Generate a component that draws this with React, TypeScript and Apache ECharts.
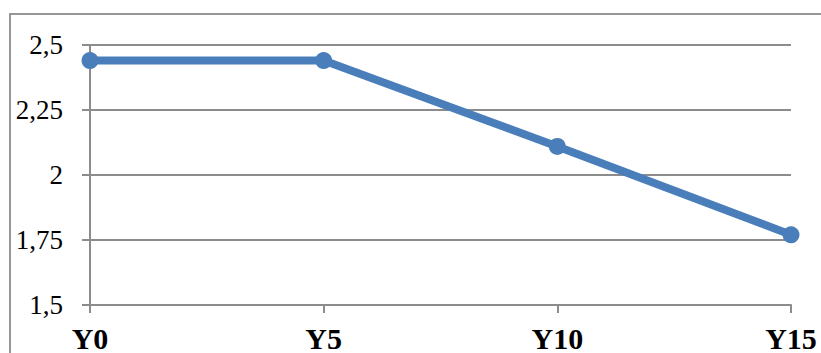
import React, { useEffect, useRef } from "react";
import * as echarts from "echarts";

const categories = ["Y0", "Y5", "Y10", "Y15"];
const values = [2.44, 2.44, 2.11, 1.77];
const yMin = 1.5;
const yMax = 2.5;
const yInterval = 0.25;

export default function App() {
  const ref = useRef<HTMLDivElement>(null);
  useEffect(() => {
    if (!ref.current) return;
    const chart = echarts.init(ref.current, null, { renderer: "svg" });
    const gray = "#8c8c8c";
    const font = "'Liberation Serif'";
    chart.setOption({
      animation: false,
      backgroundColor: "#ffffff",
      graphic: [
        {
          type: "rect",
          shape: { x: 10, y: 14, width: 840, height: 380 },
          style: { fill: "none", stroke: "#969696", lineWidth: 2 },
          silent: true,
        },
      ],
      grid: { left: 90, right: 30, top: 45, bottom: 46 },
      xAxis: {
        type: "category",
        data: categories,
        boundaryGap: false,
        axisLine: { show: true, lineStyle: { color: gray, width: 2 } },
        axisTick: { show: true, length: 8, lineStyle: { color: gray, width: 2 } },
        axisLabel: {
          color: "#000",
          fontSize: 30,
          fontWeight: "bold",
          fontFamily: font,
          margin: 18,
        },
        splitLine: { show: false },
      },
      yAxis: {
        type: "value",
        min: yMin,
        max: yMax,
        interval: yInterval,
        axisLine: { show: true, lineStyle: { color: gray, width: 2 } },
        axisTick: { show: true, length: 8, lineStyle: { color: gray, width: 2 } },
        axisLabel: {
          color: "#000",
          fontSize: 27,
          fontFamily: font,
          margin: 27,
          formatter: (v: number) => String(v).replace(".", ","),
        },
        splitLine: { show: true, lineStyle: { color: gray, width: 2 } },
      },
      series: [
        {
          type: "line",
          data: values,
          symbol: "circle",
          symbolSize: 17,
          lineStyle: { color: "#4a7ebb", width: 8 },
          itemStyle: { color: "#4a7ebb" },
        },
      ],
    });
    return () => chart.dispose();
  }, []);
  return (
    <div
      ref={ref}
      style={{ position: "fixed", left: 0, top: 0, width: 821, height: 353 }}
    />
  );
}
